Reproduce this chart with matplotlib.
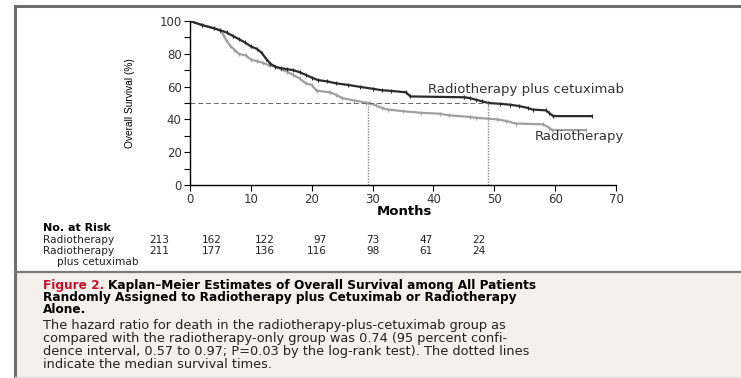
import matplotlib
matplotlib.use("Agg")
import matplotlib.pyplot as plt
from matplotlib.lines import Line2D
from matplotlib.patches import Rectangle

# Kaplan-Meier curves (month, overall survival %)
cetux_months = [0, 2, 4, 5, 6, 7, 8, 9, 10, 11, 11.8, 12.5, 13.2, 14, 15, 16, 17, 18,
                19, 20, 21, 22.5, 24, 26, 28, 30, 31.5, 33, 35.5, 36.2, 45, 46, 47, 48,
                49, 51, 52.5, 54, 55.5, 56.3, 58.5, 59, 59.7, 66]
cetux_surv = [100, 97.5, 95.5, 94.3, 93, 91, 89, 87, 84.5, 83, 80.5, 77, 74, 72, 71.2,
              70.6, 70, 68.8, 67.2, 65.5, 64, 63.2, 62, 61, 59.8, 58.7, 57.8, 57.4, 56.5,
              54, 53.5, 53, 52, 51, 50, 49.5, 49, 48.2, 47, 46, 45.5, 44, 42, 42]

radio_months = [0, 2, 4, 5, 5.5, 6, 6.6, 7.3, 8, 9.2, 10, 11, 12, 13, 14, 15, 16, 17,
                18, 19, 20, 20.8, 23, 24, 25, 27, 29, 29.5, 30.5, 31.5, 32.5, 35, 38,
                41, 42.5, 46, 47, 50.5, 52, 53.5, 58, 59, 59.5, 65]
radio_surv = [100, 97.5, 95.5, 94, 91.5, 88, 85, 82.5, 80, 79, 76.5, 75.5, 74.5, 73,
              72.5, 70.5, 69, 67, 65, 62, 61, 57.5, 56.5, 55, 53, 51.5, 50.2, 50, 48.5,
              47, 46, 45, 44, 43.5, 42.5, 41.5, 41, 40, 39, 37.5, 37, 35, 33.5, 33.5]

median_radio = 29.3
median_cetux = 49.0

risk_months = [0, 10, 20, 30, 40, 50, 60]
risk_radio = [213, 162, 122, 97, 73, 47, 22]
risk_cetux = [211, 177, 136, 116, 98, 61, 24]

W, H = 741, 378


def px(x, y):
    """Pixel position -> figure fraction."""
    return x / W, 1 - y / H


fig = plt.figure(figsize=(W / 100, H / 100), dpi=100)
fig.patch.set_facecolor("white")

# frame and caption box
fig.add_artist(Rectangle(px(16, 378), (W - 16) / W, (378 - 272) / H,
                         transform=fig.transFigure, facecolor="#f4f1ec",
                         edgecolor="none", zorder=0))
fig.add_artist(Line2D([px(15, 0)[0], px(15, 0)[0]], [px(0, 6)[1], px(0, 378)[1]],
                      transform=fig.transFigure, color="#6e6e6e", lw=2.2))
fig.add_artist(Line2D([px(15, 0)[0], 1], [px(0, 6)[1], px(0, 6)[1]],
                      transform=fig.transFigure, color="#6e6e6e", lw=2.2))
fig.add_artist(Line2D([px(15, 0)[0], 1], [px(0, 272)[1], px(0, 272)[1]],
                      transform=fig.transFigure, color="#7a7a7a", lw=1.6))
fig.add_artist(Line2D([px(15, 0)[0], 1], [px(0, 376.5)[1], px(0, 376.5)[1]],
                      transform=fig.transFigure, color="#dddddd", lw=1))

left, top = px(190, 21)
right, bottom = px(616, 185)
ax = fig.add_axes([left, bottom, right - left, top - bottom])
ax.set_facecolor("none")

ax.plot(radio_months, radio_surv, color="#a0a0a0", lw=1.6,
        marker="|", ms=2.5, mew=0.8)
ax.plot(cetux_months, cetux_surv, color="#2b2b2b", lw=1.6,
        marker="|", ms=2.5, mew=0.8)

# median survival guides
ax.plot([0, median_cetux], [50, 50], color="#666666", lw=0.7, ls=(0, (5, 3)))
for m in (median_radio, median_cetux):
    ax.plot([m, m], [0, 50], color="#888888", lw=1.0, ls=(0, (1, 1)))

ax.text(39.1, 58.5, "Radiotherapy plus cetuximab", fontsize=9.5, color="#333333",
        va="center", ha="left")
ax.text(56.7, 29.5, "Radiotherapy", fontsize=9.5, color="#333333", va="center", ha="left")

ax.set_xlim(0, 70)
ax.set_ylim(0, 100)
ax.set_xticks(range(0, 71, 10))
ax.set_yticks(range(0, 101, 20))
ax.set_yticks(range(10, 100, 20), minor=True)
for s in ("top", "right"):
    ax.spines[s].set_visible(False)
for s in ("left", "bottom"):
    ax.spines[s].set_linewidth(1.0)
ax.tick_params(axis="both", direction="out", length=4, width=0.8, labelsize=8.5,
               labelcolor="#333333", pad=2)
ax.tick_params(axis="y", which="minor", direction="out", length=4, width=0.8)

fig.text(*px(404, 211), "Months", fontsize=9.5, fontweight="bold", ha="center", va="center")
fig.text(*px(130, 103), "Overall Survival (%)", fontsize=7.3, rotation=90,
         ha="center", va="center", family="Liberation Sans")

# number at risk table
tfs = 7.6
fig.text(*px(43, 228), "No. at Risk", fontsize=8, fontweight="bold", va="center")
fig.text(*px(43, 240), "Radiotherapy", fontsize=tfs, va="center", color="#222222")
fig.text(*px(43, 251), "Radiotherapy", fontsize=tfs, va="center", color="#222222")
fig.text(*px(57, 262), "plus cetuximab", fontsize=tfs, va="center", color="#222222")
for i, m in enumerate(risk_months):
    xr = 169 + 52.7 * i
    fig.text(*px(xr, 240), str(risk_radio[i]), fontsize=tfs, ha="right", va="center",
             color="#222222")
    fig.text(*px(xr, 251), str(risk_cetux[i]), fontsize=tfs, ha="right", va="center",
             color="#222222")

# caption
fig.canvas.draw()
fig_lbl = fig.text(*px(43, 285), "Figure 2.", fontsize=8.7, fontweight="bold",
                   color="#c8102e", va="center")
bb = fig_lbl.get_window_extent(renderer=fig.canvas.get_renderer())
fig.text(bb.x1 / W + 4 / W, px(0, 285)[1],
         "Kaplan\u2013Meier Estimates of Overall Survival among All Patients",
         fontsize=8.7, fontweight="bold", va="center")
fig.text(*px(43, 297.5), "Randomly Assigned to Radiotherapy plus Cetuximab or Radiotherapy",
         fontsize=8.7, fontweight="bold", va="center")
fig.text(*px(43, 309.5), "Alone.", fontsize=8.7, fontweight="bold", va="center")

body = [
    "The hazard ratio for death in the radiotherapy-plus-cetuximab group as",
    "compared with the radiotherapy-only group was 0.74 (95 percent confi-",
    "dence interval, 0.57 to 0.97; P=0.03 by the log-rank test). The dotted lines",
    "indicate the median survival times.",
]
for i, line in enumerate(body):
    fig.text(*px(43, 326 + 12.7 * i), line, fontsize=9.3, va="center", color="#222222")

fig.savefig("out.png", dpi=100)
